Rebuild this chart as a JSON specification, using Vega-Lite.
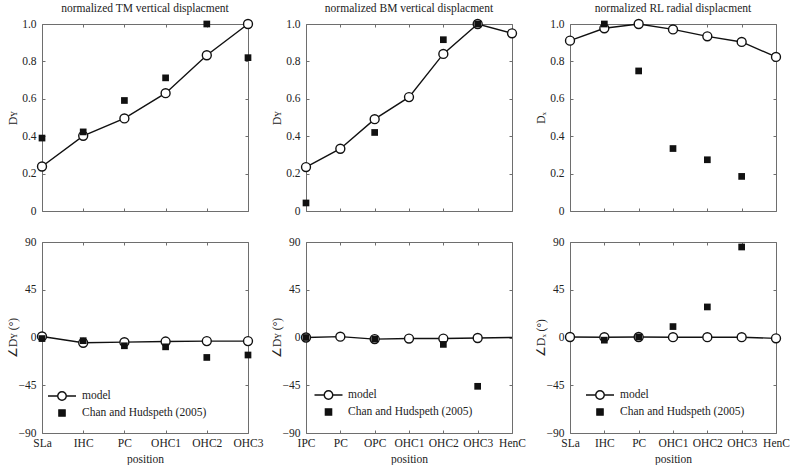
{
  "$schema": "https://vega.github.io/schema/vega-lite/v6.json",
  "background": "white",
  "padding": {"left": 6, "top": 2, "right": 0, "bottom": 5},
  "config": {
    "font": "Liberation Serif",
    "view": {"stroke": "#6e6e6e", "strokeWidth": 1},
    "axis": {"domain": false, "grid": false, "ticks": true, "tickSize": -3, "tickColor": "#6e6e6e", "tickWidth": 1, "labelFont": "Liberation Serif", "labelFontSize": 11.5, "labelColor": "#222", "titleFont": "Liberation Serif", "titleFontSize": 11.5, "titleFontWeight": "normal", "titleColor": "#222"},
    "axisLeft": {"labelPadding": 9, "minExtent": 22, "maxExtent": 22, "titlePadding": 2},
    "axisBottom": {"labelPadding": 7.5, "titlePadding": 4, "labelAngle": 0},
    "title": {"font": "Liberation Serif", "fontSize": 11.5, "fontWeight": "normal", "color": "#222", "offset": 2},
    "legend": {"orient": "none", "title": null, "symbolSize": 100, "symbolOpacity": 1, "symbolStrokeWidth": 1.4, "symbolStrokeColor": "#111", "labelFont": "Liberation Serif", "labelFontSize": 11.5, "labelColor": "#222", "rowPadding": 3, "padding": 0}
  },
  "datasets": {
    "tm_amp": [
      {"position": "SLa", "series": "model", "value": 0.238},
      {"position": "IHC", "series": "model", "value": 0.402},
      {"position": "PC", "series": "model", "value": 0.495},
      {"position": "OHC1", "series": "model", "value": 0.63},
      {"position": "OHC2", "series": "model", "value": 0.833},
      {"position": "OHC3", "series": "model", "value": 1.0},
      {"position": "SLa", "series": "Chan and Hudspeth (2005)", "value": 0.39},
      {"position": "IHC", "series": "Chan and Hudspeth (2005)", "value": 0.423},
      {"position": "PC", "series": "Chan and Hudspeth (2005)", "value": 0.591},
      {"position": "OHC1", "series": "Chan and Hudspeth (2005)", "value": 0.712},
      {"position": "OHC2", "series": "Chan and Hudspeth (2005)", "value": 1.0},
      {"position": "OHC3", "series": "Chan and Hudspeth (2005)", "value": 0.82}
    ],
    "tm_phase": [
      {"position": "SLa", "series": "model", "value": 1},
      {"position": "IHC", "series": "model", "value": -5},
      {"position": "PC", "series": "model", "value": -4.4},
      {"position": "OHC1", "series": "model", "value": -3.8},
      {"position": "OHC2", "series": "model", "value": -3.4},
      {"position": "OHC3", "series": "model", "value": -3.4},
      {"position": "SLa", "series": "Chan and Hudspeth (2005)", "value": -1},
      {"position": "IHC", "series": "Chan and Hudspeth (2005)", "value": -3},
      {"position": "PC", "series": "Chan and Hudspeth (2005)", "value": -7.8},
      {"position": "OHC1", "series": "Chan and Hudspeth (2005)", "value": -8.8},
      {"position": "OHC2", "series": "Chan and Hudspeth (2005)", "value": -18.8},
      {"position": "OHC3", "series": "Chan and Hudspeth (2005)", "value": -16.5}
    ],
    "bm_amp": [
      {"position": "IPC", "series": "model", "value": 0.235},
      {"position": "PC", "series": "model", "value": 0.333},
      {"position": "OPC", "series": "model", "value": 0.491},
      {"position": "OHC1", "series": "model", "value": 0.609},
      {"position": "OHC2", "series": "model", "value": 0.84},
      {"position": "OHC3", "series": "model", "value": 1.0},
      {"position": "HenC", "series": "model", "value": 0.95},
      {"position": "IPC", "series": "Chan and Hudspeth (2005)", "value": 0.043},
      {"position": "OPC", "series": "Chan and Hudspeth (2005)", "value": 0.42},
      {"position": "OHC2", "series": "Chan and Hudspeth (2005)", "value": 0.916},
      {"position": "OHC3", "series": "Chan and Hudspeth (2005)", "value": 1.0}
    ],
    "bm_phase": [
      {"position": "IPC", "series": "model", "value": 0},
      {"position": "PC", "series": "model", "value": 0.8},
      {"position": "OPC", "series": "model", "value": -1.5},
      {"position": "OHC1", "series": "model", "value": -1},
      {"position": "OHC2", "series": "model", "value": -1},
      {"position": "OHC3", "series": "model", "value": -0.5},
      {"position": "HenC", "series": "model", "value": 0},
      {"position": "IPC", "series": "Chan and Hudspeth (2005)", "value": 0},
      {"position": "OPC", "series": "Chan and Hudspeth (2005)", "value": -1.5},
      {"position": "OHC2", "series": "Chan and Hudspeth (2005)", "value": -6.5},
      {"position": "OHC3", "series": "Chan and Hudspeth (2005)", "value": -46}
    ],
    "rl_amp": [
      {"position": "SLa", "series": "model", "value": 0.911},
      {"position": "IHC", "series": "model", "value": 0.977},
      {"position": "PC", "series": "model", "value": 1.0},
      {"position": "OHC1", "series": "model", "value": 0.971},
      {"position": "OHC2", "series": "model", "value": 0.934},
      {"position": "OHC3", "series": "model", "value": 0.904},
      {"position": "HenC", "series": "model", "value": 0.824},
      {"position": "IHC", "series": "Chan and Hudspeth (2005)", "value": 1.0},
      {"position": "PC", "series": "Chan and Hudspeth (2005)", "value": 0.749},
      {"position": "OHC1", "series": "Chan and Hudspeth (2005)", "value": 0.334},
      {"position": "OHC2", "series": "Chan and Hudspeth (2005)", "value": 0.274},
      {"position": "OHC3", "series": "Chan and Hudspeth (2005)", "value": 0.185}
    ],
    "rl_phase": [
      {"position": "SLa", "series": "model", "value": 0.5},
      {"position": "IHC", "series": "model", "value": 0.3},
      {"position": "PC", "series": "model", "value": 0.5},
      {"position": "OHC1", "series": "model", "value": 0.3},
      {"position": "OHC2", "series": "model", "value": 0.3},
      {"position": "OHC3", "series": "model", "value": 0.3},
      {"position": "HenC", "series": "model", "value": -0.8},
      {"position": "IHC", "series": "Chan and Hudspeth (2005)", "value": -2.5},
      {"position": "PC", "series": "Chan and Hudspeth (2005)", "value": 0.5},
      {"position": "OHC1", "series": "Chan and Hudspeth (2005)", "value": 10.3},
      {"position": "OHC2", "series": "Chan and Hudspeth (2005)", "value": 28.8},
      {"position": "OHC3", "series": "Chan and Hudspeth (2005)", "value": 85.3}
    ]
  },
  "columns": 3,
  "spacing": {"row": 31, "column": 58},
  "bounds": "flush",
  "resolve": {
    "scale": {"shape": "independent", "fill": "independent", "stroke": "independent"},
    "legend": {"shape": "independent", "fill": "independent", "stroke": "independent"}
  },
  "concat": [
    {
      "width": 206, "height": 187,
      "title": "normalized TM vertical displacment",
      "data": {"name": "tm_amp"},
      "resolve": {"scale": {"x": "independent", "y": "independent"}, "axis": {"x": "independent", "y": "independent"}},
      "layer": [
        {
          "transform": [{"filter": "datum.series == 'model'"}],
          "mark": {"type": "line", "color": "#111", "strokeWidth": 1.4},
          "encoding": {
            "x": {"field": "position", "type": "ordinal", "scale": {"type": "point", "domain": ["SLa", "IHC", "PC", "OHC1", "OHC2", "OHC3"], "padding": 0}, "axis": {"orient": "bottom", "labels": false, "title": null}},
            "y": {"field": "value", "type": "quantitative", "scale": {"domain": [0, 1]}, "axis": {"orient": "left", "values": [0, 0.2, 0.4, 0.6, 0.8, 1], "labelExpr": "datum.value == 0 ? '0' : format(datum.value, '.1f')", "title": "Dʏ"}},
            "order": {"value": null}
          }
        },
        {
          "transform": [{"filter": "datum.series == 'model'"}],
          "mark": {"type": "point", "shape": "circle", "filled": true, "fill": "white", "stroke": "#111", "strokeWidth": 1.4, "size": 80, "opacity": 1},
          "encoding": {
            "x": {"field": "position", "type": "ordinal", "scale": {"type": "point", "domain": ["SLa", "IHC", "PC", "OHC1", "OHC2", "OHC3"], "padding": 0}, "axis": {"orient": "top", "labels": false, "title": null}},
            "y": {"field": "value", "type": "quantitative", "scale": {"domain": [0, 1]}, "axis": {"orient": "right", "values": [0, 0.2, 0.4, 0.6, 0.8, 1], "labels": false, "title": null}}
          }
        },
        {
          "transform": [{"filter": "datum.series != 'model'"}],
          "mark": {"type": "point", "shape": "square", "filled": true, "fill": "#111", "size": 45, "opacity": 1},
          "encoding": {
            "x": {"field": "position", "type": "ordinal", "scale": {"type": "point", "domain": ["SLa", "IHC", "PC", "OHC1", "OHC2", "OHC3"], "padding": 0}, "axis": null},
            "y": {"field": "value", "type": "quantitative", "scale": {"domain": [0, 1]}, "axis": null}
          }
        }
      ]
    },
    {
      "width": 206, "height": 187,
      "title": "normalized  BM vertical displacment",
      "data": {"name": "bm_amp"},
      "resolve": {"scale": {"x": "independent", "y": "independent"}, "axis": {"x": "independent", "y": "independent"}},
      "layer": [
        {
          "transform": [{"filter": "datum.series == 'model'"}],
          "mark": {"type": "line", "color": "#111", "strokeWidth": 1.4},
          "encoding": {
            "x": {"field": "position", "type": "ordinal", "scale": {"type": "point", "domain": ["IPC", "PC", "OPC", "OHC1", "OHC2", "OHC3", "HenC"], "padding": 0}, "axis": {"orient": "bottom", "labels": false, "title": null}},
            "y": {"field": "value", "type": "quantitative", "scale": {"domain": [0, 1]}, "axis": {"orient": "left", "values": [0, 0.2, 0.4, 0.6, 0.8, 1], "labelExpr": "datum.value == 0 ? '0' : format(datum.value, '.1f')", "title": "Dʏ"}},
            "order": {"value": null}
          }
        },
        {
          "transform": [{"filter": "datum.series == 'model'"}],
          "mark": {"type": "point", "shape": "circle", "filled": true, "fill": "white", "stroke": "#111", "strokeWidth": 1.4, "size": 80, "opacity": 1},
          "encoding": {
            "x": {"field": "position", "type": "ordinal", "scale": {"type": "point", "domain": ["IPC", "PC", "OPC", "OHC1", "OHC2", "OHC3", "HenC"], "padding": 0}, "axis": {"orient": "top", "labels": false, "title": null}},
            "y": {"field": "value", "type": "quantitative", "scale": {"domain": [0, 1]}, "axis": {"orient": "right", "values": [0, 0.2, 0.4, 0.6, 0.8, 1], "labels": false, "title": null}}
          }
        },
        {
          "transform": [{"filter": "datum.series != 'model'"}],
          "mark": {"type": "point", "shape": "square", "filled": true, "fill": "#111", "size": 45, "opacity": 1},
          "encoding": {
            "x": {"field": "position", "type": "ordinal", "scale": {"type": "point", "domain": ["IPC", "PC", "OPC", "OHC1", "OHC2", "OHC3", "HenC"], "padding": 0}, "axis": null},
            "y": {"field": "value", "type": "quantitative", "scale": {"domain": [0, 1]}, "axis": null}
          }
        }
      ]
    },
    {
      "width": 206, "height": 187,
      "title": "normalized  RL radial displacment",
      "data": {"name": "rl_amp"},
      "resolve": {"scale": {"x": "independent", "y": "independent"}, "axis": {"x": "independent", "y": "independent"}},
      "layer": [
        {
          "transform": [{"filter": "datum.series == 'model'"}],
          "mark": {"type": "line", "color": "#111", "strokeWidth": 1.4},
          "encoding": {
            "x": {"field": "position", "type": "ordinal", "scale": {"type": "point", "domain": ["SLa", "IHC", "PC", "OHC1", "OHC2", "OHC3", "HenC"], "padding": 0}, "axis": {"orient": "bottom", "labels": false, "title": null}},
            "y": {"field": "value", "type": "quantitative", "scale": {"domain": [0, 1]}, "axis": {"orient": "left", "values": [0, 0.2, 0.4, 0.6, 0.8, 1], "labelExpr": "datum.value == 0 ? '0' : format(datum.value, '.1f')", "title": "Dₓ"}},
            "order": {"value": null}
          }
        },
        {
          "transform": [{"filter": "datum.series == 'model'"}],
          "mark": {"type": "point", "shape": "circle", "filled": true, "fill": "white", "stroke": "#111", "strokeWidth": 1.4, "size": 80, "opacity": 1},
          "encoding": {
            "x": {"field": "position", "type": "ordinal", "scale": {"type": "point", "domain": ["SLa", "IHC", "PC", "OHC1", "OHC2", "OHC3", "HenC"], "padding": 0}, "axis": {"orient": "top", "labels": false, "title": null}},
            "y": {"field": "value", "type": "quantitative", "scale": {"domain": [0, 1]}, "axis": {"orient": "right", "values": [0, 0.2, 0.4, 0.6, 0.8, 1], "labels": false, "title": null}}
          }
        },
        {
          "transform": [{"filter": "datum.series != 'model'"}],
          "mark": {"type": "point", "shape": "square", "filled": true, "fill": "#111", "size": 45, "opacity": 1},
          "encoding": {
            "x": {"field": "position", "type": "ordinal", "scale": {"type": "point", "domain": ["SLa", "IHC", "PC", "OHC1", "OHC2", "OHC3", "HenC"], "padding": 0}, "axis": null},
            "y": {"field": "value", "type": "quantitative", "scale": {"domain": [0, 1]}, "axis": null}
          }
        }
      ]
    },
    {
      "width": 206, "height": 191,
      "data": {"name": "tm_phase"},
      "resolve": {"scale": {"x": "independent", "y": "independent"}, "axis": {"x": "independent", "y": "independent"}},
      "layer": [
        {
          "transform": [{"filter": "datum.series == 'model'"}],
          "mark": {"type": "line", "color": "#111", "strokeWidth": 1.4},
          "encoding": {
            "x": {"field": "position", "type": "ordinal", "scale": {"type": "point", "domain": ["SLa", "IHC", "PC", "OHC1", "OHC2", "OHC3"], "padding": 0}, "axis": {"orient": "bottom", "title": "position"}},
            "y": {"field": "value", "type": "quantitative", "scale": {"domain": [-90, 90]}, "axis": {"orient": "left", "values": [-90, -45, 0, 45, 90], "title": "∠Dʏ (°)"}},
            "order": {"value": null}
          }
        },
        {
          "transform": [{"filter": "datum.series == 'model'"}],
          "mark": {"type": "point", "shape": "circle", "filled": true, "fill": "white", "stroke": "#111", "strokeWidth": 1.4, "size": 80, "opacity": 1},
          "encoding": {
            "x": {"field": "position", "type": "ordinal", "scale": {"type": "point", "domain": ["SLa", "IHC", "PC", "OHC1", "OHC2", "OHC3"], "padding": 0}, "axis": {"orient": "top", "labels": false, "title": null}},
            "y": {"field": "value", "type": "quantitative", "scale": {"domain": [-90, 90]}, "axis": {"orient": "right", "values": [-90, -45, 0, 45, 90], "labels": false, "title": null}}
          }
        },
        {
          "transform": [{"filter": "datum.series != 'model'"}],
          "mark": {"type": "point", "shape": "square", "filled": true, "fill": "#111", "size": 45, "opacity": 1},
          "encoding": {
            "x": {"field": "position", "type": "ordinal", "scale": {"type": "point", "domain": ["SLa", "IHC", "PC", "OHC1", "OHC2", "OHC3"], "padding": 0}, "axis": null},
            "y": {"field": "value", "type": "quantitative", "scale": {"domain": [-90, 90]}, "axis": null}
          }
        },
        {
          "mark": {"type": "point", "filled": true, "opacity": 0, "strokeWidth": 1.4},
          "encoding": {
            "x": {"field": "position", "type": "ordinal", "scale": {"type": "point", "domain": ["SLa", "IHC", "PC", "OHC1", "OHC2", "OHC3"], "padding": 0}, "axis": null},
            "y": {"field": "value", "type": "quantitative", "scale": {"domain": [-90, 90]}, "axis": null},
            "shape": {"field": "series", "type": "nominal", "scale": {"domain": ["model", "Chan and Hudspeth (2005)"], "range": ["M-2.8,0L-0.85,0M0.85,0L2.8,0M0.85,0A0.85,0.85,0,1,1,-0.85,0A0.85,0.85,0,1,1,0.85,0Z", "M-0.62,-0.62L0.62,-0.62L0.62,0.62L-0.62,0.62Z"]}, "legend": {"legendX": 14, "legendY": 148, "labelOffset": 14}},
            "fill": {"field": "series", "type": "nominal", "scale": {"domain": ["model", "Chan and Hudspeth (2005)"], "range": ["white", "#111"]}, "legend": {"legendX": 14, "legendY": 148, "labelOffset": 14}},
            "stroke": {"field": "series", "type": "nominal", "scale": {"domain": ["model", "Chan and Hudspeth (2005)"], "range": ["#111", "#111"]}, "legend": {"legendX": 14, "legendY": 148, "labelOffset": 14}}
          }
        }
      ]
    },
    {
      "width": 206, "height": 191,
      "data": {"name": "bm_phase"},
      "resolve": {"scale": {"x": "independent", "y": "independent"}, "axis": {"x": "independent", "y": "independent"}},
      "layer": [
        {
          "transform": [{"filter": "datum.series == 'model'"}],
          "mark": {"type": "line", "color": "#111", "strokeWidth": 1.4},
          "encoding": {
            "x": {"field": "position", "type": "ordinal", "scale": {"type": "point", "domain": ["IPC", "PC", "OPC", "OHC1", "OHC2", "OHC3", "HenC"], "padding": 0}, "axis": {"orient": "bottom", "title": "position"}},
            "y": {"field": "value", "type": "quantitative", "scale": {"domain": [-90, 90]}, "axis": {"orient": "left", "values": [-90, -45, 0, 45, 90], "title": "∠Dʏ (°)"}},
            "order": {"value": null}
          }
        },
        {
          "transform": [{"filter": "datum.series == 'model' && datum.position != 'HenC'"}],
          "mark": {"type": "point", "shape": "circle", "filled": true, "fill": "white", "stroke": "#111", "strokeWidth": 1.4, "size": 80, "opacity": 1},
          "encoding": {
            "x": {"field": "position", "type": "ordinal", "scale": {"type": "point", "domain": ["IPC", "PC", "OPC", "OHC1", "OHC2", "OHC3", "HenC"], "padding": 0}, "axis": {"orient": "top", "labels": false, "title": null}},
            "y": {"field": "value", "type": "quantitative", "scale": {"domain": [-90, 90]}, "axis": {"orient": "right", "values": [-90, -45, 0, 45, 90], "labels": false, "title": null}}
          }
        },
        {
          "transform": [{"filter": "datum.series != 'model'"}],
          "mark": {"type": "point", "shape": "square", "filled": true, "fill": "#111", "size": 45, "opacity": 1},
          "encoding": {
            "x": {"field": "position", "type": "ordinal", "scale": {"type": "point", "domain": ["IPC", "PC", "OPC", "OHC1", "OHC2", "OHC3", "HenC"], "padding": 0}, "axis": null},
            "y": {"field": "value", "type": "quantitative", "scale": {"domain": [-90, 90]}, "axis": null}
          }
        },
        {
          "mark": {"type": "point", "filled": true, "opacity": 0, "strokeWidth": 1.4},
          "encoding": {
            "x": {"field": "position", "type": "ordinal", "scale": {"type": "point", "domain": ["IPC", "PC", "OPC", "OHC1", "OHC2", "OHC3", "HenC"], "padding": 0}, "axis": null},
            "y": {"field": "value", "type": "quantitative", "scale": {"domain": [-90, 90]}, "axis": null},
            "shape": {"field": "series", "type": "nominal", "scale": {"domain": ["model", "Chan and Hudspeth (2005)"], "range": ["M-2.8,0L-0.85,0M0.85,0L2.8,0M0.85,0A0.85,0.85,0,1,1,-0.85,0A0.85,0.85,0,1,1,0.85,0Z", "M-0.62,-0.62L0.62,-0.62L0.62,0.62L-0.62,0.62Z"]}, "legend": {"legendX": 16.5, "legendY": 147, "labelOffset": 13.5}},
            "fill": {"field": "series", "type": "nominal", "scale": {"domain": ["model", "Chan and Hudspeth (2005)"], "range": ["white", "#111"]}, "legend": {"legendX": 16.5, "legendY": 147, "labelOffset": 13.5}},
            "stroke": {"field": "series", "type": "nominal", "scale": {"domain": ["model", "Chan and Hudspeth (2005)"], "range": ["#111", "#111"]}, "legend": {"legendX": 16.5, "legendY": 147, "labelOffset": 13.5}}
          }
        }
      ]
    },
    {
      "width": 206, "height": 191,
      "data": {"name": "rl_phase"},
      "resolve": {"scale": {"x": "independent", "y": "independent"}, "axis": {"x": "independent", "y": "independent"}},
      "layer": [
        {
          "transform": [{"filter": "datum.series == 'model'"}],
          "mark": {"type": "line", "color": "#111", "strokeWidth": 1.4},
          "encoding": {
            "x": {"field": "position", "type": "ordinal", "scale": {"type": "point", "domain": ["SLa", "IHC", "PC", "OHC1", "OHC2", "OHC3", "HenC"], "padding": 0}, "axis": {"orient": "bottom", "title": "position"}},
            "y": {"field": "value", "type": "quantitative", "scale": {"domain": [-90, 90]}, "axis": {"orient": "left", "values": [-90, -45, 0, 45, 90], "title": "∠Dₓ (°)"}},
            "order": {"value": null}
          }
        },
        {
          "transform": [{"filter": "datum.series == 'model'"}],
          "mark": {"type": "point", "shape": "circle", "filled": true, "fill": "white", "stroke": "#111", "strokeWidth": 1.4, "size": 80, "opacity": 1},
          "encoding": {
            "x": {"field": "position", "type": "ordinal", "scale": {"type": "point", "domain": ["SLa", "IHC", "PC", "OHC1", "OHC2", "OHC3", "HenC"], "padding": 0}, "axis": {"orient": "top", "labels": false, "title": null}},
            "y": {"field": "value", "type": "quantitative", "scale": {"domain": [-90, 90]}, "axis": {"orient": "right", "values": [-90, -45, 0, 45, 90], "labels": false, "title": null}}
          }
        },
        {
          "transform": [{"filter": "datum.series != 'model'"}],
          "mark": {"type": "point", "shape": "square", "filled": true, "fill": "#111", "size": 45, "opacity": 1},
          "encoding": {
            "x": {"field": "position", "type": "ordinal", "scale": {"type": "point", "domain": ["SLa", "IHC", "PC", "OHC1", "OHC2", "OHC3", "HenC"], "padding": 0}, "axis": null},
            "y": {"field": "value", "type": "quantitative", "scale": {"domain": [-90, 90]}, "axis": null}
          }
        },
        {
          "mark": {"type": "point", "filled": true, "opacity": 0, "strokeWidth": 1.4},
          "encoding": {
            "x": {"field": "position", "type": "ordinal", "scale": {"type": "point", "domain": ["SLa", "IHC", "PC", "OHC1", "OHC2", "OHC3", "HenC"], "padding": 0}, "axis": null},
            "y": {"field": "value", "type": "quantitative", "scale": {"domain": [-90, 90]}, "axis": null},
            "shape": {"field": "series", "type": "nominal", "scale": {"domain": ["model", "Chan and Hudspeth (2005)"], "range": ["M-2.8,0L-0.85,0M0.85,0L2.8,0M0.85,0A0.85,0.85,0,1,1,-0.85,0A0.85,0.85,0,1,1,0.85,0Z", "M-0.62,-0.62L0.62,-0.62L0.62,0.62L-0.62,0.62Z"]}, "legend": {"legendX": 24, "legendY": 147, "labelOffset": 14}},
            "fill": {"field": "series", "type": "nominal", "scale": {"domain": ["model", "Chan and Hudspeth (2005)"], "range": ["white", "#111"]}, "legend": {"legendX": 24, "legendY": 147, "labelOffset": 14}},
            "stroke": {"field": "series", "type": "nominal", "scale": {"domain": ["model", "Chan and Hudspeth (2005)"], "range": ["#111", "#111"]}, "legend": {"legendX": 24, "legendY": 147, "labelOffset": 14}}
          }
        }
      ]
    }
  ]
}
